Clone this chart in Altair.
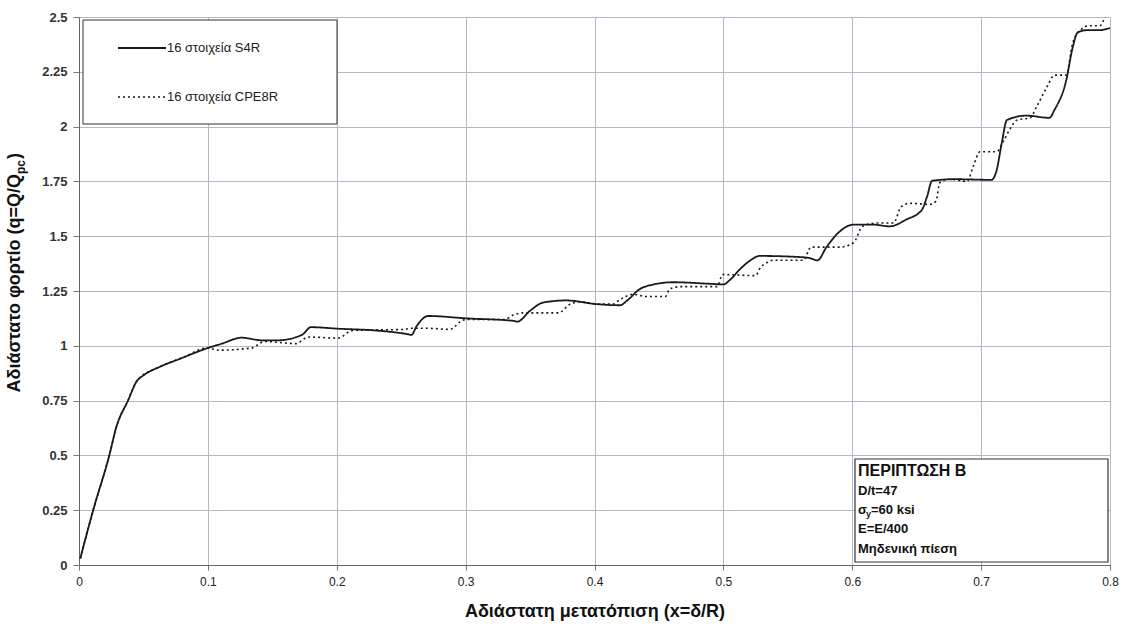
import altair as alt
import pandas as pd

# ---- data ----
s4r_x = [0.001, 0.011, 0.0235, 0.029, 0.038, 0.045, 0.050, 0.063, 0.078, 0.100, 0.111, 0.126, 0.142, 0.154,
         0.173, 0.180, 0.201, 0.230, 0.253, 0.258, 0.262, 0.271, 0.301, 0.337, 0.340, 0.350, 0.360, 0.378,
         0.402, 0.420, 0.425, 0.435, 0.446, 0.461, 0.489, 0.500, 0.505, 0.513, 0.521, 0.528, 0.559, 0.567,
         0.573, 0.580, 0.590, 0.601, 0.616, 0.629, 0.642, 0.654, 0.658, 0.662, 0.680, 0.708, 0.712, 0.716,
         0.720, 0.735, 0.753, 0.757, 0.766, 0.771, 0.775, 0.782, 0.792, 0.800]
s4r_q = [0.03, 0.25, 0.50, 0.63, 0.75, 0.84, 0.865, 0.905, 0.94, 0.99, 1.01, 1.037, 1.025, 1.025,
         1.05, 1.085, 1.078, 1.07, 1.055, 1.05, 1.09, 1.136, 1.125, 1.114, 1.11, 1.16, 1.197, 1.207,
         1.19, 1.185, 1.205, 1.258, 1.28, 1.29, 1.283, 1.28, 1.30, 1.35, 1.39, 1.41, 1.405, 1.40,
         1.39, 1.45, 1.52, 1.553, 1.553, 1.545, 1.576, 1.62, 1.68, 1.753, 1.76, 1.757, 1.80, 1.925,
         2.03, 2.05, 2.04, 2.077, 2.21, 2.36, 2.43, 2.44, 2.44, 2.45]

cpe_x = [0.001, 0.011, 0.0235, 0.029, 0.038, 0.045, 0.063, 0.080, 0.100, 0.108, 0.134, 0.144, 0.168, 0.178,
         0.201, 0.212, 0.253, 0.257, 0.270, 0.288, 0.296, 0.300, 0.330, 0.337, 0.345, 0.372, 0.381, 0.388,
         0.404, 0.414, 0.420, 0.430, 0.440, 0.455, 0.4585, 0.467, 0.495, 0.4995, 0.525, 0.528, 0.534, 0.538,
         0.562, 0.568, 0.590, 0.601, 0.608, 0.619, 0.632, 0.638, 0.645, 0.660, 0.665, 0.668, 0.675, 0.689,
         0.694, 0.699, 0.712, 0.717, 0.722, 0.728, 0.738, 0.743, 0.751, 0.757, 0.766, 0.771, 0.777, 0.784,
         0.792, 0.796]
cpe_q = [0.03, 0.25, 0.50, 0.63, 0.75, 0.84, 0.905, 0.945, 0.99, 0.98, 0.99, 1.02, 1.01, 1.04,
         1.035, 1.07, 1.075, 1.08, 1.08, 1.075, 1.11, 1.12, 1.12, 1.14, 1.15, 1.15, 1.19, 1.20,
         1.19, 1.19, 1.212, 1.235, 1.225, 1.225, 1.26, 1.27, 1.27, 1.325, 1.32, 1.35, 1.38, 1.39,
         1.39, 1.45, 1.45, 1.47, 1.545, 1.56, 1.56, 1.635, 1.65, 1.645, 1.66, 1.745, 1.76, 1.75,
         1.82, 1.885, 1.885, 1.93, 1.985, 2.03, 2.04, 2.09, 2.18, 2.235, 2.235, 2.38, 2.44, 2.46,
         2.46, 2.50]

series_names = ["16 στοιχεία S4R", "16 στοιχεία CPE8R"]
x_ticks = [0, 0.1, 0.2, 0.3, 0.4, 0.5, 0.6, 0.7, 0.8]
y_ticks = [0, 0.25, 0.5, 0.75, 1, 1.25, 1.5, 1.75, 2, 2.25, 2.5]

x_title = "Αδιάστατη μετατόπιση (x=δ/R)"
y_title_main = "Αδιάστατο φορτίο (q=Q/Q"
y_title_sub = "pc"
y_title_end = ")"

case_title = "ΠΕΡΙΠΤΩΣΗ Β"
case_dt = "D/t=47"
case_sigma = "σ"
case_sigma_sub = "y"
case_sigma_rest = "=60 ksi"
case_e = "E=E/400"
case_p = "Μηδενική πίεση"

# ---- build table ----
df = pd.concat([
    pd.DataFrame({"x": s4r_x, "q": s4r_q, "series": series_names[0]}),
    pd.DataFrame({"x": cpe_x, "q": cpe_q, "series": series_names[1]}),
], ignore_index=True)

W, H = 1031, 548
GRID = "#b3b7c6"
FONT = "Liberation Sans"

lines = alt.Chart(df).mark_line(color="#1a1a1a", interpolate="monotone", clip=True).encode(
    x=alt.X("x:Q", scale=alt.Scale(domain=[0, 0.8], nice=False, zero=False),
            axis=alt.Axis(values=x_ticks, format=".1~f", title=x_title,
                          titleFont=FONT, titleFontSize=18, titleFontWeight="bold", titleColor="#111",
                          titlePadding=15, labelFont=FONT, labelFontSize=12, labelColor="#222",
                          labelPadding=6, tickSize=5, tickColor="#777", domainColor="#666",
                          gridColor=GRID, labelFlush=False)),
    y=alt.Y("q:Q", scale=alt.Scale(domain=[0, 2.5], nice=False, zero=False),
            axis=alt.Axis(values=y_ticks, format=".2~f", title=None,
                          labelFont=FONT, labelFontSize=13, labelFontWeight="bold", labelColor="#333",
                          labelPadding=6, tickSize=6, tickColor="#777", domainColor="#666",
                          gridColor=GRID, labelFlush=False)),
    strokeDash=alt.StrokeDash("series:N",
                              scale=alt.Scale(domain=series_names, range=[[1, 0], [2, 3]]),
                              legend=alt.Legend(title=None, orient="none", legendX=38, legendY=6,
                                                direction="vertical", symbolType="stroke",
                                                symbolSize=2304, symbolStrokeWidth=1.6,
                                                symbolStrokeColor="#1a1a1a", labelFont=FONT,
                                                labelFontSize=13, labelColor="#222", rowPadding=17,
                                                labelOffset=0, padding=0)),
    strokeWidth=alt.StrokeWidth("series:N",
                                scale=alt.Scale(domain=series_names, range=[1.8, 1.6]),
                                legend=None),
)

one = pd.DataFrame({"a": [0]})

legend_box = alt.Chart(one).mark_rect(fill="white", stroke="#333", strokeWidth=1).encode(
    x=alt.value(4), x2=alt.value(258), y=alt.value(3), y2=alt.value(107))

anno_box = alt.Chart(one).mark_rect(fill="white", stroke="#333", strokeWidth=1.2).encode(
    x=alt.value(776), x2=alt.value(1029), y=alt.value(442), y2=alt.value(545))


def txt(t, x, y, size, weight="normal", align="left", angle=0, color="#111"):
    kw = dict(align=align, baseline="middle", font=FONT, fontSize=size, fontWeight=weight, color=color)
    if angle:
        kw["angle"] = angle
    return alt.Chart(pd.DataFrame({"t": [t]})).mark_text(**kw).encode(
        x=alt.value(x), y=alt.value(y), text="t:N")


texts = [
    txt(case_title, 779, 454, 16, "bold"),
    txt(case_dt, 779, 474, 13, "bold"),
    txt(case_sigma, 779, 493, 13, "bold"),
    txt(case_sigma_sub, 787, 497, 9, "bold"),
    txt(case_sigma_rest, 792, 493, 13, "bold"),
    txt(case_e, 779, 512, 13, "bold"),
    txt(case_p, 779, 532, 13, "bold"),
    # y-axis title with subscript
    txt(y_title_main, -64, 157, 18, "bold", align="right", angle=270),
    txt(y_title_sub, -58, 157, 12, "bold", align="left", angle=270),
    txt(y_title_end, -64, 142, 18, "bold", align="left", angle=270),
]

chart = alt.layer(lines, legend_box, anno_box, *texts).properties(
    width=W, height=H,
    padding={"left": 79, "top": 17, "right": 24, "bottom": 64},
    autosize=alt.AutoSizeParams(type="none"),
).configure_view(stroke=GRID, strokeWidth=1).configure(background="white")

chart.save("out.html", embed_options={"renderer": "svg", "actions": False})
